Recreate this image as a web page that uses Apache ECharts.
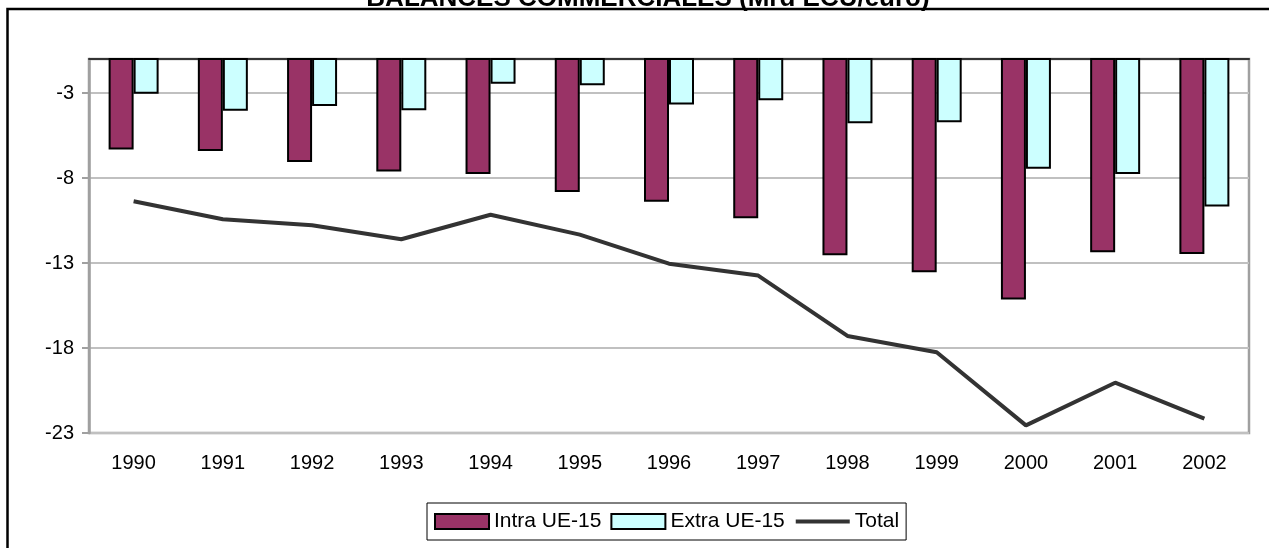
<!DOCTYPE html>
<html>
<head>
<meta charset="utf-8">
<script src="https://cdn.jsdelivr.net/npm/echarts@6/dist/echarts.min.js"></script>
<style>
html,body{margin:0;padding:0;background:#fff;}
#chart{width:1269px;height:548px;}
</style>
</head>
<body>
<div id="chart"></div>
<script>
const years = ['1990','1991','1992','1993','1994','1995','1996','1997','1998','1999','2000','2001','2002'];
const intraUE15 = [-6.33, -6.41, -7.06, -7.62, -7.76, -8.82, -9.39, -10.37, -12.55, -13.55, -15.14, -12.37, -12.47];
const extraUE15 = [-3.04, -4.04, -3.76, -4.02, -2.45, -2.55, -3.68, -3.43, -4.78, -4.72, -7.45, -7.76, -9.68];
const total = [-9.37, -10.43, -10.78, -11.60, -10.16, -11.33, -13.04, -13.74, -17.29, -18.25, -22.55, -20.04, -22.15];
const titleText = 'BALANCES COMMERCIALES (Mrd ECU/euro)';

const chart = echarts.init(document.getElementById('chart'));
const FONT = '"Liberation Sans", Arial, sans-serif';
chart.setOption({
  animation: false,
  backgroundColor: '#fff',
  textStyle: { fontFamily: FONT, color: '#000' },
  graphic: [
    { type: 'rect', z: -10, shape: { x: 7.5, y: 9, width: 1400, height: 700 },
      style: { fill: null, stroke: '#000', lineWidth: 2.5 } },
    { type: 'text', x: 648, y: 12, z: 10,
      style: { text: titleText, font: 'bold 26px ' + FONT, fill: '#000',
               textAlign: 'center', textVerticalAlign: 'bottom' } }
  ],
  grid: { left: 89, top: 59, right: 20, bottom: 115, show: true,
          borderColor: '#a0a0a0', borderWidth: 2.5, backgroundColor: 'transparent' },
  legend: {
    left: 427, top: 503,
    padding: [8, 7, 8, 7],
    borderColor: '#000', borderWidth: 1,
    itemWidth: 54, itemHeight: 15, itemGap: 9,
    textStyle: { fontSize: 21, color: '#000', fontFamily: FONT },
    data: [
      { name: 'Intra UE-15', icon: 'rect', itemStyle: { borderColor: '#000', borderWidth: 2 } },
      { name: 'Extra UE-15', icon: 'rect', itemStyle: { borderColor: '#000', borderWidth: 2 } },
      { name: 'Total', itemStyle: { opacity: 0 }, lineStyle: { color: '#333333', width: 4 } }
    ]
  },
  xAxis: [
    { type: 'category', data: years, position: 'bottom',
      axisLine: { show: false }, axisTick: { show: false },
      axisLabel: { fontSize: 20, color: '#000', margin: 20, fontFamily: FONT } },
    { type: 'category', data: years, position: 'top',
      axisLine: { show: true, lineStyle: { color: '#333', width: 2 } },
      axisTick: { show: false }, axisLabel: { show: false } }
  ],
  yAxis: {
    type: 'value', min: -23, max: -1, interval: 5,
    axisLine: { show: true, lineStyle: { color: '#a0a0a0', width: 2.5 } },
    axisTick: { show: true, length: 7, lineStyle: { color: '#a0a0a0', width: 2 } },
    axisLabel: { fontSize: 20, color: '#000', margin: 15, showMaxLabel: false, fontFamily: FONT },
    splitLine: { show: true, lineStyle: { color: '#c0c0c0', width: 2 } }
  },
  series: [
    { name: 'Intra UE-15', type: 'bar', data: intraUE15, barWidth: 25, barGap: '0%',
      itemStyle: { color: '#993366', borderColor: '#000', borderWidth: 2 } },
    { name: 'Extra UE-15', type: 'bar', data: extraUE15, barWidth: 25, barGap: '0%',
      itemStyle: { color: '#CCFFFF', borderColor: '#000', borderWidth: 2 } },
    { name: 'Total', type: 'line', data: total, symbol: 'none',
      lineStyle: { color: '#333333', width: 4 }, itemStyle: { color: '#333333' } }
  ]
});
</script>
</body>
</html>
